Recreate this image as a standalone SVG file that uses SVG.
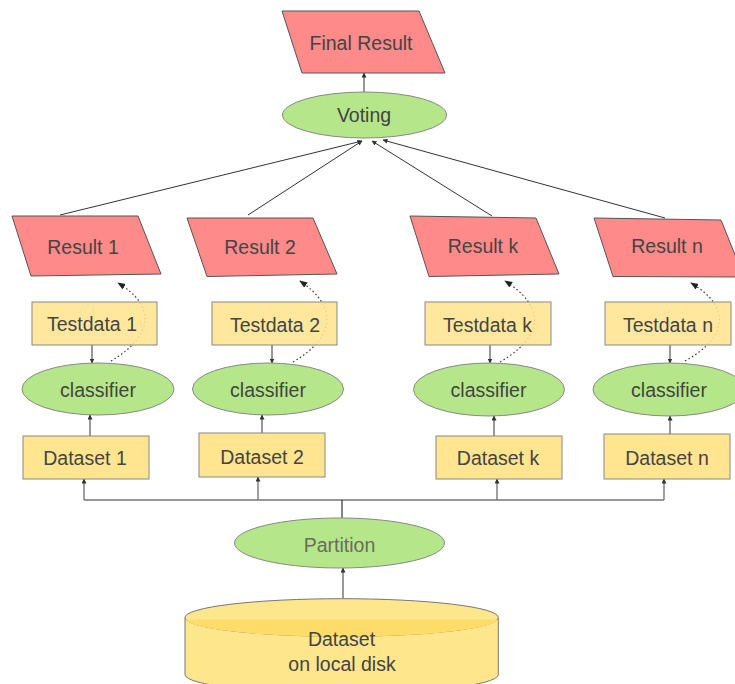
<svg xmlns="http://www.w3.org/2000/svg" width="735" height="684" viewBox="0 0 735 684">
  <defs>
    <marker id="arr" viewBox="0 0 10 10" refX="9" refY="5" markerWidth="5" markerHeight="5" orient="auto" markerUnits="userSpaceOnUse">
      <path d="M0,0 L10,5 L0,10 Z" fill="#333"/>
    </marker>
    <marker id="arrd" viewBox="0 0 10 10" refX="9" refY="5" markerWidth="8" markerHeight="8" orient="auto" markerUnits="userSpaceOnUse">
      <path d="M0,1 L10,5 L0,9 Z" fill="#222"/>
    </marker>
    <style>
      text { font-family: "Liberation Sans", Arial, sans-serif; font-size: 19.5px; fill: #444; text-anchor: middle; }
      .res { fill: #ff8a8a; stroke: #555; stroke-width: 1; }
      .box { fill: #ffe58f; stroke: #888; stroke-width: 1; }
      .ell { fill: #b6e68a; stroke: #888; stroke-width: 1; }
      .ln { fill: none; stroke: #333; stroke-width: 1; marker-end: url(#arr); }
      .up { fill: none; stroke: #777; stroke-width: 1.4; marker-end: url(#arr); }
      .bus { fill: none; stroke: #333; stroke-width: 1.2; }
      .dot { fill: none; stroke: #333; stroke-width: 1.2; stroke-dasharray: 1.5 2.5; marker-end: url(#arrd); }
    </style>
  </defs>

  <!-- connectors -->
  <g id="connectors">
    <!-- results into voting -->
    <path class="ln" d="M60,215 L362,141"/>
    <path class="ln" d="M248,215 L362,141"/>
    <path class="ln" d="M492,216 L372,141"/>
    <path class="ln" d="M665,218 L383,140"/>
    <!-- voting to final result -->
    <path class="ln" d="M364,92 L364,73"/>
    <!-- testdata into classifiers -->
    <path class="ln" d="M92,345 L92,363"/>
    <path class="ln" d="M272,345 L272,363"/>
    <path class="ln" d="M490,345 L490,363"/>
    <path class="ln" d="M670,345 L670,363"/>
    <!-- datasets into classifiers -->
    <path class="ln" d="M90,436 L90,415"/>
    <path class="ln" d="M262,433 L262,415"/>
    <path class="ln" d="M494,436 L494,416"/>
    <path class="ln" d="M670,434 L670,416"/>
    <!-- classifier outputs to results (dotted) -->
    <path class="dot" d="M111,361 C155,335 155,305 118,283"/>
    <path class="dot" d="M293,362 C337,336 337,306 300,281"/>
    <path class="dot" d="M500,362 C545,336 545,306 505,281"/>
    <path class="dot" d="M685,361 C730,336 730,306 691,283"/>
    <!-- partition bus -->
    <path class="bus" d="M84,500 L664,500"/>
    <path class="bus" d="M342,500 L342,518"/>
    <path class="up" d="M84,500 L84,479"/>
    <path class="up" d="M258,500 L258,477"/>
    <path class="up" d="M497,500 L497,479"/>
    <path class="up" d="M664,500 L664,479"/>
    <!-- disk to partition -->
    <path class="ln" d="M343,598 L343,568"/>
  </g>

  <g id="final-result">
    <polygon class="res" points="282,11 419,11 445,73 302,73"/>
    <text x="361" y="50">Final Result</text>
  </g>
  <g id="voting">
    <ellipse class="ell" cx="364.5" cy="115" rx="82" ry="23"/>
    <text x="364" y="122">Voting</text>
  </g>

  <g id="result-1">
    <polygon class="res" points="12,216 138,216 161,274 31,276"/>
    <text x="83" y="254">Result 1</text>
  </g>
  <g id="result-2">
    <polygon class="res" points="187,218 313,218 337,274 207,276.5"/>
    <text x="260" y="254">Result 2</text>
  </g>
  <g id="result-k">
    <polygon class="res" points="410,216 536,218 559,274 429,276.5"/>
    <text x="483" y="253">Result k</text>
  </g>
  <g id="result-n">
    <polygon class="res" points="594,218 721,220 744,277 613,276.5"/>
    <text x="667" y="253">Result n</text>
  </g>

  <g id="testdata-1">
    <rect class="box" x="32" y="302" width="125" height="43" fill-opacity="0.88"/>
    <text x="92" y="331">Testdata 1</text>
  </g>
  <g id="testdata-2">
    <rect class="box" x="212" y="302" width="125" height="43" fill-opacity="0.88"/>
    <text x="275" y="331.5">Testdata 2</text>
  </g>
  <g id="testdata-k">
    <rect class="box" x="425" y="302" width="126" height="43" fill-opacity="0.88"/>
    <text x="487.5" y="331.5">Testdata k</text>
  </g>
  <g id="testdata-n">
    <rect class="box" x="605" y="302" width="126" height="43" fill-opacity="0.88"/>
    <text x="668" y="331.5">Testdata n</text>
  </g>

  <g id="classifier-1">
    <ellipse class="ell" cx="98" cy="389" rx="76" ry="26"/>
    <text x="98" y="396.5">classifier</text>
  </g>
  <g id="classifier-2">
    <ellipse class="ell" cx="268" cy="389" rx="75.5" ry="26"/>
    <text x="268" y="396.5">classifier</text>
  </g>
  <g id="classifier-k">
    <ellipse class="ell" cx="489" cy="389.5" rx="75.5" ry="26.5"/>
    <text x="488.5" y="396.5">classifier</text>
  </g>
  <g id="classifier-n">
    <ellipse class="ell" cx="669" cy="389.5" rx="76" ry="26.5"/>
    <text x="669" y="396.5">classifier</text>
  </g>

  <g id="dataset-1">
    <rect class="box" x="23" y="436" width="126" height="43"/>
    <text x="85" y="465">Dataset 1</text>
  </g>
  <g id="dataset-2">
    <rect class="box" x="199" y="433" width="126" height="44"/>
    <text x="262" y="464">Dataset 2</text>
  </g>
  <g id="dataset-k">
    <rect class="box" x="436" y="436" width="126" height="43"/>
    <text x="498" y="465">Dataset k</text>
  </g>
  <g id="dataset-n">
    <rect class="box" x="604" y="434" width="126" height="45"/>
    <text x="667" y="465">Dataset n</text>
  </g>

  <g id="partition">
    <ellipse class="ell" cx="339.5" cy="543" rx="105" ry="25"/>
    <text x="339.5" y="552" style="fill:#6b6b5f">Partition</text>
  </g>

  <g id="local-disk">
    <path d="M185,617.5 L185,675 A156.7,18.8 0 0 0 498.3,675 L498.3,617.5" fill="#fee68d" stroke="#777" stroke-width="1"/>
    <ellipse cx="341.7" cy="617.5" rx="156.7" ry="18.8" fill="#fee68d" stroke="#777" stroke-width="1"/>
    <path d="M185.5,619.5 L498,619.5 A156.7,18.8 0 0 1 185.5,619.5 Z" fill="#fddc6a" stroke="none"/>
    <text x="341.5" y="646">Dataset</text>
    <text x="342" y="671">on local disk</text>
  </g>
</svg>
